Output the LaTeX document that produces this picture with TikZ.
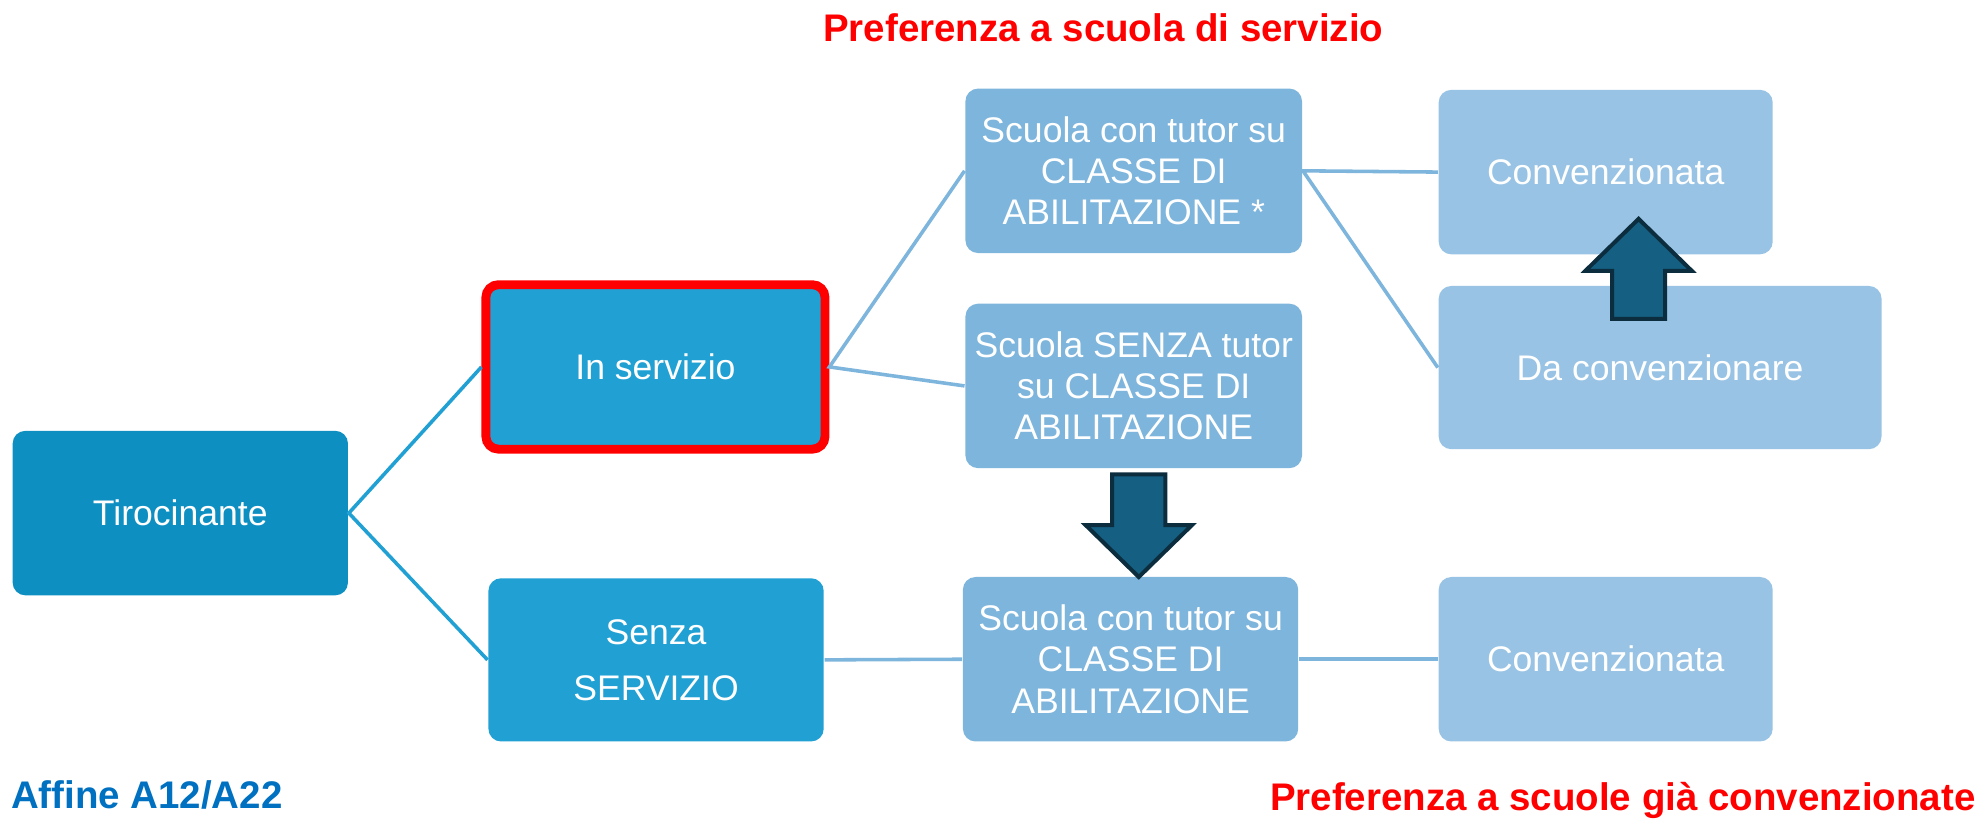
\documentclass[tikz,border=0pt]{standalone}
\usepackage{fontspec}
\setmainfont{Liberation Sans}
\definecolor{tiroblue}{HTML}{0E8FC2}
\definecolor{servblue}{HTML}{21A0D4}
\definecolor{scuolablue}{HTML}{7EB5DC}
\definecolor{convblue}{HTML}{98C3E4}
\definecolor{arrowfill}{HTML}{155F82}
\definecolor{arrowline}{HTML}{0C2D3E}
\definecolor{labelblue}{HTML}{0070C0}

\begin{document}
\begin{tikzpicture}[scale=1,
	box/.style={rounded corners=0.1cm, text=white, align=center, inner sep=0pt,
		font=\fontsize{8}{9.25}\selectfont, minimum width=2.65cm, minimum height=1.30cm},
	tirobox/.style={box, fill=tiroblue},
	servbox/.style={box, fill=servblue},
	scuolabox/.style={box, fill=scuolablue},
	convbox/.style={box, fill=convblue, minimum width=2.64cm},
	darklink/.style={draw=servblue, line width=0.8pt},
	lightlink/.style={draw=scuolablue, line width=0.8pt},
	bigarrow/.style={fill=arrowfill, draw=arrowline, line width=0.9pt, line join=miter},
	note/.style={font=\fontsize{8.65}{10}\selectfont\bfseries, inner sep=0pt}]
			\useasboundingbox (0,0) rectangle (15.68,6.49);
			% first level
			\node[tirobox] (tiro) at (1.425,2.435) {Tirocinante};
			% second level
			\node[servbox, draw=red, line width=0.07cm, minimum width=2.68cm] (inserv) at (5.18,3.59) {In servizio};
			\node[servbox, minimum height=1.29cm] (senza) at (5.185,1.275) {Senza\\[3.3pt] SERVIZIO};
			% third level
			\node[scuolabox, minimum width=2.66cm] (tutor) at (8.96,5.14) {Scuola con tutor su\\ CLASSE DI\\ ABILITAZIONE *};
			\node[scuolabox, minimum width=2.66cm] (notutor) at (8.96,3.44) {Scuola SENZA tutor\\ su CLASSE DI\\ ABILITAZIONE};
			\node[scuolabox] (tutorb) at (8.935,1.28) {Scuola con tutor su\\ CLASSE DI\\ ABILITAZIONE};
			% fourth level
			\node[convbox] (conv) at (12.69,5.13) {Convenzionata};
			\node[convbox, minimum width=3.50cm, minimum height=1.29cm] (daconv) at (13.12,3.585) {Da convenzionare};
			\node[convbox] (convb) at (12.69,1.28) {Convenzionata};

			\draw[darklink] (inserv.west) -- (tiro.east) -- (senza.west);
			\draw[lightlink] (tutor.west) -- (inserv.east) -- (notutor.west);
			\draw[lightlink] (senza.east) -- (tutorb.west);
			\draw[lightlink] (conv.west) -- (tutor.east) -- (daconv.west);
			\draw[lightlink] (tutorb.east) -- (convb.west);

			% block arrows
			\draw[bigarrow] (8.79,2.74) -- (9.21,2.74) -- (9.21,2.34) -- (9.42,2.34) -- (9.00,1.93)
				-- (8.58,2.34) -- (8.79,2.34) -- cycle;
			\draw[bigarrow] (12.74,3.97) -- (13.16,3.97) -- (13.16,4.35) -- (13.37,4.35) -- (12.95,4.76)
				-- (12.53,4.35) -- (12.74,4.35) -- cycle;

			\node[note, text=red] (titolo) at (8.72,6.27) {Preferenza a scuola di servizio};
			\node[note, text=labelblue, anchor=west] (affine) at (0.08,0.21) {Affine A12/A22};
			\node[note, text=red, anchor=east] (prefconv) at (15.62,0.16) {Preferenza a scuole già convenzionate};
\end{tikzpicture}
\end{document}
